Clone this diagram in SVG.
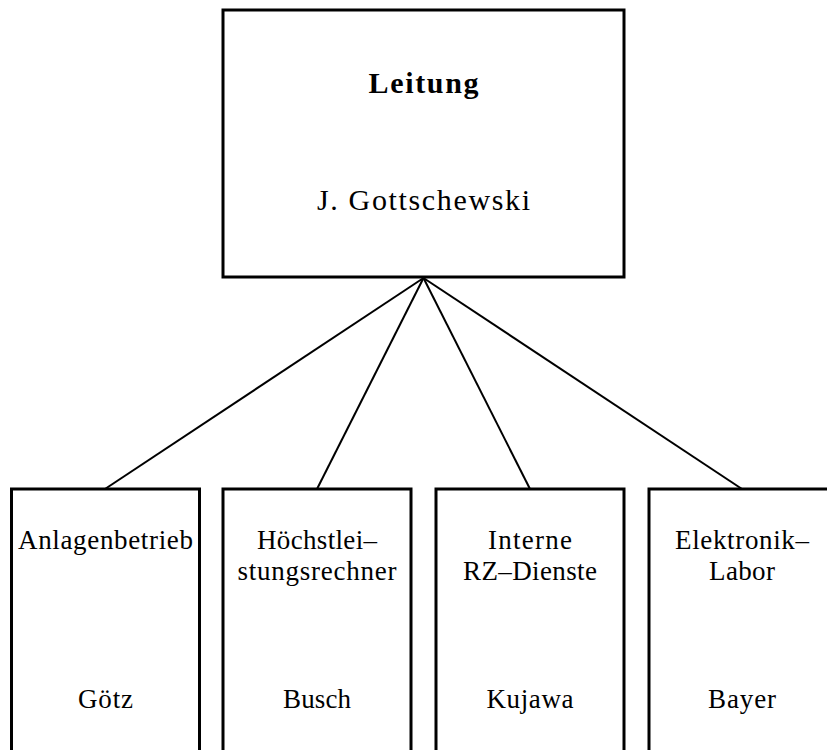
<svg xmlns="http://www.w3.org/2000/svg" width="827" height="750" viewBox="0 0 827 750">
<style>
.box{fill:#fff;stroke:#000;stroke-width:3}
.conn line{stroke:#000;stroke-width:2}
text{font-family:"Liberation Serif","DejaVu Serif",serif;fill:#000;text-anchor:middle}
.t{font-size:30px}
.b{font-size:27px}
</style>
<rect width="827" height="750" fill="#fff"/>
<g id="connectors" class="conn">
<line x1="423.5" y1="278" x2="105" y2="489"/>
<line x1="423.5" y1="278" x2="317" y2="489"/>
<line x1="423.5" y1="278" x2="530" y2="489"/>
<line x1="423.5" y1="278" x2="742" y2="489"/>
</g>
<g id="leitung">
<rect class="box" x="223" y="10" width="401" height="267"/>
<text class="t" x="423.5" y="93" font-weight="bold" textLength="110" lengthAdjust="spacing">Leitung</text>
<text class="t" x="423.5" y="210" textLength="213" lengthAdjust="spacing">J. Gottschewski</text>
</g>
<g id="anlagenbetrieb">
<rect class="box" x="11.5" y="489" width="188" height="300"/>
<text class="b" x="105.5" y="549" textLength="175" lengthAdjust="spacing">Anlagenbetrieb</text>
<text class="b" x="105.5" y="708" textLength="55" lengthAdjust="spacing">Götz</text>
</g>
<g id="hoechstleistungsrechner">
<rect class="box" x="223" y="489" width="188" height="300"/>
<text class="b" x="317" y="549" textLength="120" lengthAdjust="spacing">Höchstlei–</text>
<text class="b" x="317" y="580" textLength="159" lengthAdjust="spacing">stungsrechner</text>
<text class="b" x="317" y="708" textLength="68" lengthAdjust="spacing">Busch</text>
</g>
<g id="rz-dienste">
<rect class="box" x="436" y="489" width="188" height="300"/>
<text class="b" x="530" y="549" textLength="84" lengthAdjust="spacing">Interne</text>
<text class="b" x="530" y="580" textLength="134" lengthAdjust="spacing">RZ–Dienste</text>
<text class="b" x="530" y="708" textLength="87" lengthAdjust="spacing">Kujawa</text>
</g>
<g id="elektronik-labor">
<rect class="box" x="649" y="489" width="188" height="300"/>
<text class="b" x="742" y="549" textLength="134" lengthAdjust="spacing">Elektronik–</text>
<text class="b" x="742" y="580" textLength="66" lengthAdjust="spacing">Labor</text>
<text class="b" x="742" y="708" textLength="68" lengthAdjust="spacing">Bayer</text>
</g>
</svg>
